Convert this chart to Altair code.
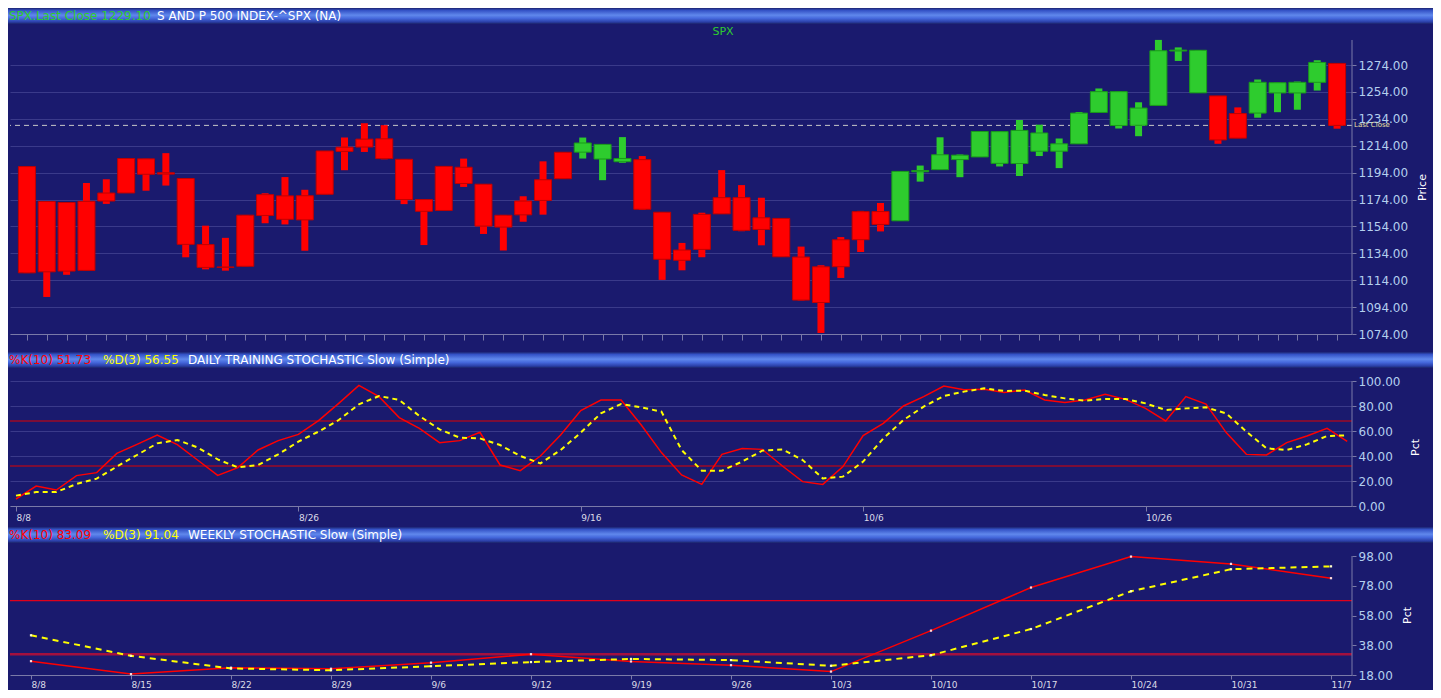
import altair as alt
import pandas as pd

# ---------------- data ----------------
opens = [1198.48, 1120.23, 1171.77, 1121.30, 1172.87, 1178.86, 1204.22, 1192.89, 1189.62, 1140.47,
         1123.55, 1124.36, 1162.16, 1176.69, 1158.85, 1177.91, 1209.76, 1213.00, 1219.12, 1203.90,
         1173.97, 1165.85, 1197.98, 1185.37, 1153.50, 1162.59, 1173.32, 1189.44, 1209.21, 1214.99,
         1204.50, 1203.63, 1164.55, 1128.82, 1136.91, 1163.32, 1175.39, 1151.74, 1159.93, 1131.21,
         1097.42, 1124.03, 1144.11, 1165.03, 1158.15, 1194.60, 1196.19, 1206.96, 1205.65, 1224.47,
         1200.75, 1223.46, 1209.92, 1215.39, 1238.72, 1254.19, 1229.17, 1243.97, 1284.39, 1284.96,
         1251.00, 1219.62, 1238.25, 1260.82, 1253.21, 1261.12, 1275.18]
highs = [1198.48, 1172.88, 1171.77, 1186.29, 1189.04, 1204.49, 1204.22, 1208.47, 1189.62, 1154.54,
         1145.49, 1162.35, 1178.56, 1190.68, 1181.23, 1210.08, 1220.10, 1230.71, 1229.29, 1203.90,
         1173.97, 1198.62, 1204.40, 1185.37, 1162.52, 1176.41, 1202.38, 1209.11, 1220.06, 1214.99,
         1220.39, 1206.30, 1164.55, 1141.72, 1164.19, 1195.86, 1184.71, 1175.31, 1159.93, 1138.99,
         1125.12, 1146.07, 1165.55, 1171.40, 1194.91, 1199.24, 1220.25, 1207.46, 1224.61, 1224.47,
         1233.10, 1229.64, 1219.36, 1239.03, 1256.55, 1254.19, 1246.28, 1292.66, 1287.08, 1284.96,
         1251.00, 1242.48, 1263.21, 1260.82, 1261.70, 1277.55, 1275.18]
lows = [1119.28, 1101.54, 1118.01, 1121.30, 1170.74, 1178.86, 1180.53, 1184.36, 1131.03, 1122.05,
        1121.09, 1124.36, 1156.30, 1155.47, 1135.91, 1177.91, 1195.77, 1209.35, 1203.85, 1170.56,
        1140.13, 1165.85, 1183.34, 1148.37, 1136.07, 1157.44, 1162.73, 1189.44, 1204.46, 1188.36,
        1201.29, 1166.21, 1114.22, 1121.36, 1131.07, 1163.32, 1150.40, 1139.93, 1131.34, 1098.92,
        1074.77, 1115.68, 1134.95, 1150.26, 1158.15, 1187.30, 1196.19, 1190.58, 1205.65, 1198.55,
        1191.48, 1206.31, 1197.34, 1215.39, 1238.72, 1226.79, 1221.06, 1243.97, 1277.01, 1253.16,
        1215.42, 1219.62, 1234.81, 1238.92, 1240.75, 1254.99, 1226.64]
closes = [1119.46, 1172.53, 1120.76, 1172.64, 1178.81, 1204.49, 1192.76, 1193.89, 1140.65, 1123.53,
          1123.82, 1162.35, 1177.60, 1159.27, 1176.80, 1210.08, 1212.92, 1218.89, 1204.42, 1173.97,
          1165.24, 1198.62, 1185.90, 1154.23, 1162.27, 1172.87, 1188.68, 1209.11, 1216.01, 1204.09,
          1202.09, 1166.76, 1129.56, 1136.43, 1162.95, 1175.38, 1151.06, 1160.40, 1131.42, 1099.23,
          1123.95, 1144.03, 1164.97, 1155.46, 1194.89, 1195.54, 1207.25, 1203.66, 1224.58, 1200.86,
          1225.38, 1209.88, 1215.39, 1238.25, 1254.19, 1229.05, 1242.00, 1284.59, 1285.08, 1253.30,
          1218.28, 1237.90, 1261.15, 1253.23, 1261.12, 1275.92, 1229.10]
trend = ["D"] * 28 + ["U"] * 3 + ["D"] * 13 + ["U"] * 16 + ["D"] * 2 + ["U"] * 4 + ["D"]

daily_k = [5.6, 16.0, 12.8, 24.3, 26.7, 42.1, 49.3, 56.8, 49.1, 36.8,
           24.5, 30.7, 44.8, 52.3, 57.3, 68.3, 82.1, 96.5, 87.5, 70.7,
           62.1, 50.7, 52.3, 59.0, 32.8, 28.3, 40.0, 56.8, 76.3, 84.8,
           84.8, 64.8, 42.7, 24.8, 17.3, 41.3, 45.9, 45.3, 32.0, 19.5,
           17.3, 31.5, 56.3, 66.1, 80.0, 87.5, 96.0, 93.0, 93.3, 90.9,
           92.8, 84.8, 82.9, 84.8, 89.3, 85.3, 78.1, 68.0, 87.5, 81.6,
           58.7, 41.3, 40.8, 50.7, 56.0, 62.1, 51.73]
daily_d = [8.3, 11.2, 11.2, 17.6, 21.9, 31.5, 40.8, 50.1, 52.8, 46.9,
           37.3, 30.9, 32.8, 41.3, 51.5, 59.5, 68.8, 81.3, 88.0, 84.8,
           72.0, 61.3, 54.7, 54.1, 48.8, 40.0, 34.1, 44.8, 58.7, 74.1,
           81.6, 78.9, 75.5, 44.8, 28.3, 28.3, 35.5, 44.3, 45.3, 36.8,
           22.1, 23.5, 35.5, 54.1, 68.8, 79.5, 88.0, 91.5, 94.1, 92.0,
           92.3, 88.8, 86.1, 84.3, 85.6, 85.6, 82.1, 76.8, 78.1, 78.9,
           74.1, 59.5, 46.1, 44.8, 49.3, 56.0, 56.55]
daily_tick_idx = [0, 14, 28, 42, 56]
daily_tick_lab = ["8/8", "8/26", "9/16", "10/6", "10/26"]

weekly_lab = ["8/8", "8/15", "8/22", "8/29", "9/6", "9/12", "9/19", "9/26",
              "10/3", "10/10", "10/17", "10/24", "10/31", "11/7"]
weekly_k = [27.3, 18.6, 22.9, 22.2, 26.3, 32.0, 27.1, 24.6, 20.3, 47.8, 76.8, 97.6, 92.7, 83.09]
weekly_d = [44.7, 30.9, 22.4, 21.2, 23.9, 26.7, 28.8, 28.0, 24.2, 31.3, 48.9, 74.3, 89.1, 91.04]

stoch_levels = [68, 32]
price_ticks = [1074, 1094, 1114, 1134, 1154, 1174, 1194, 1214, 1234, 1254, 1274]
daily_ticks = [0, 20, 40, 60, 80, 100]
weekly_ticks = [18, 38, 58, 78, 98]

# ---------------- style ----------------
FONT = "DejaVu Sans"
BG = "#1a1a6e"
GRID = "#3a3a8a"
AXC = "#7a7aa8"
YLAB = "#b4cfee"
XLAB = "#dcdce8"
RED = "#ff0000"
GREEN = "#2ecc2e"
YEL = "#ffff00"
W = 1342
GRAD = {"gradient": "linear", "x1": 0, "y1": 0, "x2": 0, "y2": 1,
        "stops": [{"offset": 0, "color": "#1c2370"}, {"offset": 0.15, "color": "#3452c6"},
                  {"offset": 0.45, "color": "#6088ec"}, {"offset": 0.65, "color": "#4568dc"},
                  {"offset": 0.88, "color": "#2a3ea6"}, {"offset": 1, "color": "#1b2266"}]}

one = alt.Data(values=[{"a": 1}])


def header(pieces, y0, y1, ytxt):
    layers = [alt.Chart(one).mark_rect(fill=GRAD).encode(
        x=alt.value(-2), x2=alt.value(1423), y=alt.value(y0), y2=alt.value(y1))]
    for txt, col, xp in pieces:
        layers.append(alt.Chart(one).mark_text(
            text=txt, color=col, font=FONT, fontSize=12, align="left", baseline="middle"
        ).encode(x=alt.value(xp), y=alt.value(ytxt)))
    return layers


def yaxis(vals, title, tx, ty, grid=True):
    return alt.Axis(orient="right", values=vals, tickCount=len(vals) + 2, format=".2f",
                    grid=grid, gridColor=GRID,
                    domain=False, ticks=True, tickColor=AXC, tickSize=4, labelOverlap=False,
                    labelColor=YLAB, labelFont=FONT, labelFontSize=12, labelPadding=2,
                    title=title, titleColor="white", titleFont=FONT, titleFontSize=11,
                    titleFontWeight="normal", titleAngle=270, titleX=tx, titleY=ty,
                    titleAlign="center", titleBaseline="middle")


# ---------------- price panel ----------------
HP = 342
ppu = 1.345
ys_price = alt.Scale(domain=[1074 - 16 / ppu, 1074 + 326 / ppu], nice=False, zero=False)
xs_price = alt.Scale(domain=[-0.6, 66.5], nice=False, zero=False)

price_df = pd.DataFrame({"i": list(range(len(opens))), "open": opens, "high": highs,
                         "low": lows, "close": closes, "trend": trend})
cscale = alt.Scale(domain=["D", "U"], range=[RED, GREEN])
sscale = alt.Scale(domain=["D", "U"], range=["#c00000", "#1a9a1a"])

wick = alt.Chart(price_df).mark_bar(size=7).encode(
    x=alt.X("i:Q", scale=xs_price,
            axis=alt.Axis(values=list(range(len(opens))), tickCount=len(opens) + 2, labels=False,
                          ticks=True, tickSize=6, tickColor=AXC, domainColor=AXC, grid=False,
                          offset=-16, title=None)),
    y=alt.Y("low:Q", scale=ys_price, axis=yaxis(price_ticks, "Price", 70, 179)),
    y2="high:Q",
    color=alt.Color("trend:N", scale=cscale, legend=None))
body = alt.Chart(price_df).mark_bar(size=17, strokeWidth=1).encode(
    x="i:Q", y="open:Q", y2="close:Q",
    color=alt.Color("trend:N", scale=cscale, legend=None),
    stroke=alt.Stroke("trend:N", scale=sscale, legend=None))
last_rule = alt.Chart(one).mark_rule(color="#c8c8c8", strokeDash=[5, 4], strokeWidth=1).encode(
    y=alt.datum(closes[-1]))
last_lab = alt.Chart(one).mark_text(text="Last Close", color="#ece2a6", font=FONT, fontSize=7,
                                    align="left", baseline="middle").encode(
    x=alt.value(W + 2), y=alt.datum(closes[-1]))
p_axis = alt.Chart(one).mark_rule(color=AXC).encode(
    x=alt.value(W), y=alt.datum(1074), y2=alt.datum(1292.6))
spx = alt.Chart(one).mark_text(text="SPX", color=GREEN, font=FONT, fontSize=11).encode(
    x=alt.value(713), y=alt.value(24))
hdr1 = header([("SPX.Last Close %.2f" % closes[-1], GREEN, -1),
               ("S AND P 500 INDEX-^SPX (NA)", "white", 147)], 0, 16, 8)

price = alt.layer(last_rule, wick, body, last_lab, p_axis, spx, *hdr1).properties(width=W, height=HP)

# ---------------- daily stochastic ----------------
HD = 175
ys_daily = alt.Scale(domain=[-19 / 1.25, 100 + 31 / 1.25], nice=False, zero=False)
xs_daily = alt.Scale(domain=[-0.2975, 66.237], nice=False, zero=False)
daily_df = pd.DataFrame({"i": list(range(len(daily_k))), "k": daily_k, "d": daily_d})
lab_expr_d = "%s[indexof(%s, datum.value)]" % (str(daily_tick_lab), str(daily_tick_idx))

d_lv = alt.Chart(pd.DataFrame({"lvl": stoch_levels})).mark_rule(color="#e00000", strokeWidth=1).encode(
    y="lvl:Q")
d_k = alt.Chart(daily_df).mark_line(color=RED, strokeWidth=1.5).encode(
    x=alt.X("i:Q", scale=xs_daily,
            axis=alt.Axis(values=daily_tick_idx, tickCount=len(daily_tick_idx) + 2,
                          labelExpr=lab_expr_d, labelAlign="left",
                          labelFlush=False, labelOverlap=False, labelColor=XLAB, labelFont=FONT,
                          labelFontSize=9, labelPadding=2, tickSize=5, tickColor=AXC,
                          domainColor=AXC, grid=False, offset=-19, title=None)),
    y=alt.Y("k:Q", scale=ys_daily, axis=yaxis(daily_ticks, "Pct", 63, 97)))
d_d = alt.Chart(daily_df).mark_line(color=YEL, strokeWidth=2, strokeDash=[5, 4]).encode(
    x="i:Q", y="d:Q")
d_axis = alt.Chart(one).mark_rule(color=AXC).encode(x=alt.value(W), y=alt.datum(0), y2=alt.datum(100))
hdr2 = header([("%%K(10) %.2f" % daily_k[-1], RED, -1),
               ("%%D(3) %.2f" % daily_d[-1], YEL, 93),
               ("DAILY TRAINING STOCHASTIC Slow (Simple)", "white", 178)], 2, 18, 10)

daily = alt.layer(d_lv, d_k, d_d, d_axis, *hdr2).properties(width=W, height=HD)

# ---------------- weekly stochastic ----------------
HW = 165
wppu = (150 - 31) / 80
ys_week = alt.Scale(domain=[18 - 15 / wppu, 98 + 31 / wppu], nice=False, zero=False)
xs_week = alt.Scale(domain=[-0.21, 13.21], nice=False, zero=False)
week_df = pd.DataFrame({"j": list(range(len(weekly_k))), "k": weekly_k, "d": weekly_d})
lab_expr_w = "%s[datum.value]" % str(weekly_lab)

w_hi = alt.Chart(one).mark_rule(color="#e0001a", strokeWidth=1.2).encode(y=alt.datum(stoch_levels[0]))
w_lo = alt.Chart(one).mark_rule(color="#a3103e", strokeWidth=2.5).encode(y=alt.datum(stoch_levels[1]))
w_k = alt.Chart(week_df).mark_line(color=RED, strokeWidth=1.5).encode(
    x=alt.X("j:Q", scale=xs_week,
            axis=alt.Axis(values=list(range(len(weekly_lab))), tickCount=len(weekly_lab) + 2,
                          labelExpr=lab_expr_w, labelAlign="left",
                          labelFlush=False, labelOverlap=False, labelColor=XLAB, labelFont=FONT,
                          labelFontSize=9, labelPadding=1, tickSize=4, tickColor=AXC,
                          domainColor=AXC, grid=False, offset=-15, title=None)),
    y=alt.Y("k:Q", scale=ys_week, axis=yaxis(weekly_ticks, "Pct", 55, 90, grid=False)))
w_d = alt.Chart(week_df).mark_line(color=YEL, strokeWidth=2, strokeDash=[6, 5]).encode(x="j:Q", y="d:Q")
w_kp = alt.Chart(week_df).mark_point(shape="square", filled=True, size=5, color="#ffd8d8", opacity=1).encode(
    x="j:Q", y="k:Q")
w_dp = alt.Chart(week_df).mark_point(shape="square", filled=True, size=5, color="#ffffc8", opacity=1).encode(
    x="j:Q", y="d:Q")
w_axis = alt.Chart(one).mark_rule(color=AXC).encode(x=alt.value(W), y=alt.datum(18), y2=alt.datum(98))
hdr3 = header([("%%K(10) %.2f" % weekly_k[-1], RED, -1),
               ("%%D(3) %.2f" % weekly_d[-1], YEL, 93),
               ("WEEKLY STOCHASTIC Slow (Simple)", "white", 178)], 2, 18, 10)

weekly = alt.layer(w_hi, w_lo, w_k, w_d, w_kp, w_dp, w_axis, *hdr3).properties(width=W, height=HW)

chart = alt.vconcat(price, daily, weekly, spacing=0, bounds="flush").properties(
    padding={"left": 0, "top": 0, "right": 0, "bottom": 0}
).configure(background=BG, font=FONT).configure_view(strokeWidth=0)

chart.save("out.html", embed_options={"renderer": "svg", "actions": False})
